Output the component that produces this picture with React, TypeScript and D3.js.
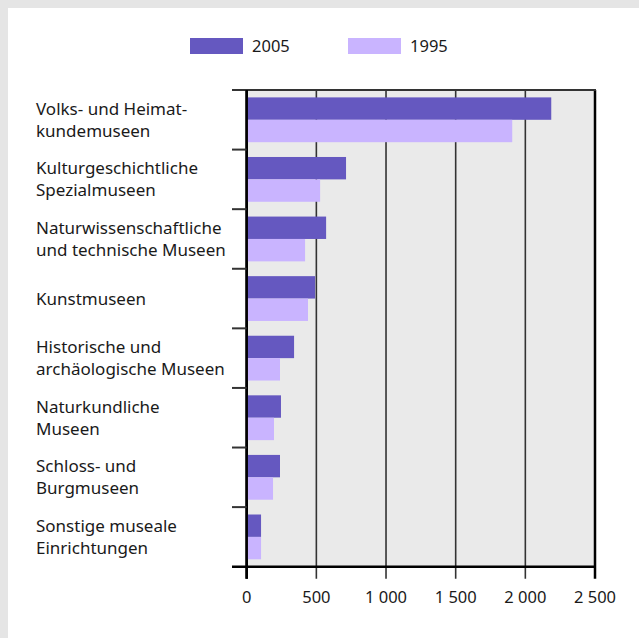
import React from 'react';
import * as d3 from 'd3';

// Museen nach Art, Anzahl 1995 und 2005
const categories = [
  'Volks- und Heimat-|kundemuseen',
  'Kulturgeschichtliche|Spezialmuseen',
  'Naturwissenschaftliche|und technische Museen',
  'Kunstmuseen',
  'Historische und|archäologische Museen',
  'Naturkundliche|Museen',
  'Schloss- und|Burgmuseen',
  'Sonstige museale|Einrichtungen',
];
const values2005 = [2186, 713, 570, 491, 340, 246, 239, 103];
const values1995 = [1906, 527, 419, 440, 239, 196, 189, 103];
const seriesNames = ['2005', '1995'];
const seriesColors = ['#6558c0', '#c9b4ff'];
const xTicks = [0, 500, 1000, 1500, 2000, 2500];

const W = 639;
const H = 638;
const FONT = '"Noto Sans", sans-serif';

const fmt = (v: number) => d3.format(',')(v).replace(/,/g, ' ');

export default function App() {
  const x = d3.scaleLinear().domain([0, 2500]).range([246.7, 595]);
  const y = d3.scaleBand().domain(categories).range([90, 566.7]).padding(0);
  const inner = d3
    .scaleBand()
    .domain(seriesNames)
    .range([0, y.bandwidth()])
    .paddingInner(0)
    .paddingOuter(0.33);

  const series = [values2005, values1995];
  const x0 = x(0);
  const top = y.range()[0];
  const bottom = y.range()[1];

  return (
    <svg
      width={W}
      height={H}
      style={{ position: 'absolute', left: 0, top: 0, fontFamily: FONT }}
    >
      <rect x={0} y={0} width={W} height={H} fill="#e5e5e5" />
      <rect x={8} y={8} width={W - 8} height={H - 8} fill="#ffffff" />

      {/* legend */}
      {seriesNames.map((s, i) => (
        <g key={s} transform={`translate(${190 + i * 158},38)`}>
          <rect width={53} height={16} fill={seriesColors[i]} />
          <text x={62} y={14} fontSize={16.5} fill="#1a1a1a">
            {s}
          </text>
        </g>
      ))}

      {/* plot background */}
      <rect x={x0} y={top} width={x(2500) - x0} height={bottom - top} fill="#eaeaea" />

      {/* grid + bottom ticks */}
      {xTicks.map((t) => (
        <g key={t}>
          <line
            x1={x(t)}
            x2={x(t)}
            y1={top}
            y2={bottom + 12}
            stroke={t === 0 || t === 2500 ? '#000' : '#333'}
            strokeWidth={t === 0 || t === 2500 ? 2.5 : 1.6}
          />
          <text
            x={x(t)}
            y={603}
            textAnchor="middle"
            fontSize={16.5}
            fill="#1a1a1a"
          >
            {fmt(t)}
          </text>
        </g>
      ))}

      {/* bars */}
      {categories.map((c, ci) =>
        series.map((vals, si) => (
          <rect
            key={c + si}
            x={x0}
            y={(y(c) as number) + (inner(seriesNames[si]) as number)}
            width={x(vals[ci]) - x0}
            height={inner.bandwidth()}
            fill={seriesColors[si]}
          />
        ))
      )}

      {/* frame */}
      <line x1={232} x2={x(2500) + 1} y1={top} y2={top} stroke="#333" strokeWidth={2} />
      <line x1={232} x2={x(2500) + 1} y1={bottom} y2={bottom} stroke="#000" strokeWidth={2.5} />
      <line x1={x0} x2={x0} y1={top} y2={bottom + 12} stroke="#000" strokeWidth={2.5} />

      {/* category boundary ticks */}
      {categories.slice(1).map((c) => (
        <line
          key={'t' + c}
          x1={232}
          x2={x0}
          y1={y(c) as number}
          y2={y(c) as number}
          stroke="#333"
          strokeWidth={2}
        />
      ))}

      {/* category labels */}
      {categories.map((c) => {
        const lines = c.split('|');
        const cy = (y(c) as number) + y.bandwidth() / 2;
        return (
          <text key={'l' + c} x={36} fontSize={17} fill="#1a1a1a">
            {lines.map((ln, li) => (
              <tspan
                key={li}
                x={36}
                y={cy + (li - (lines.length - 1) / 2) * 22 + 6}
              >
                {ln}
              </tspan>
            ))}
          </text>
        );
      })}
    </svg>
  );
}
